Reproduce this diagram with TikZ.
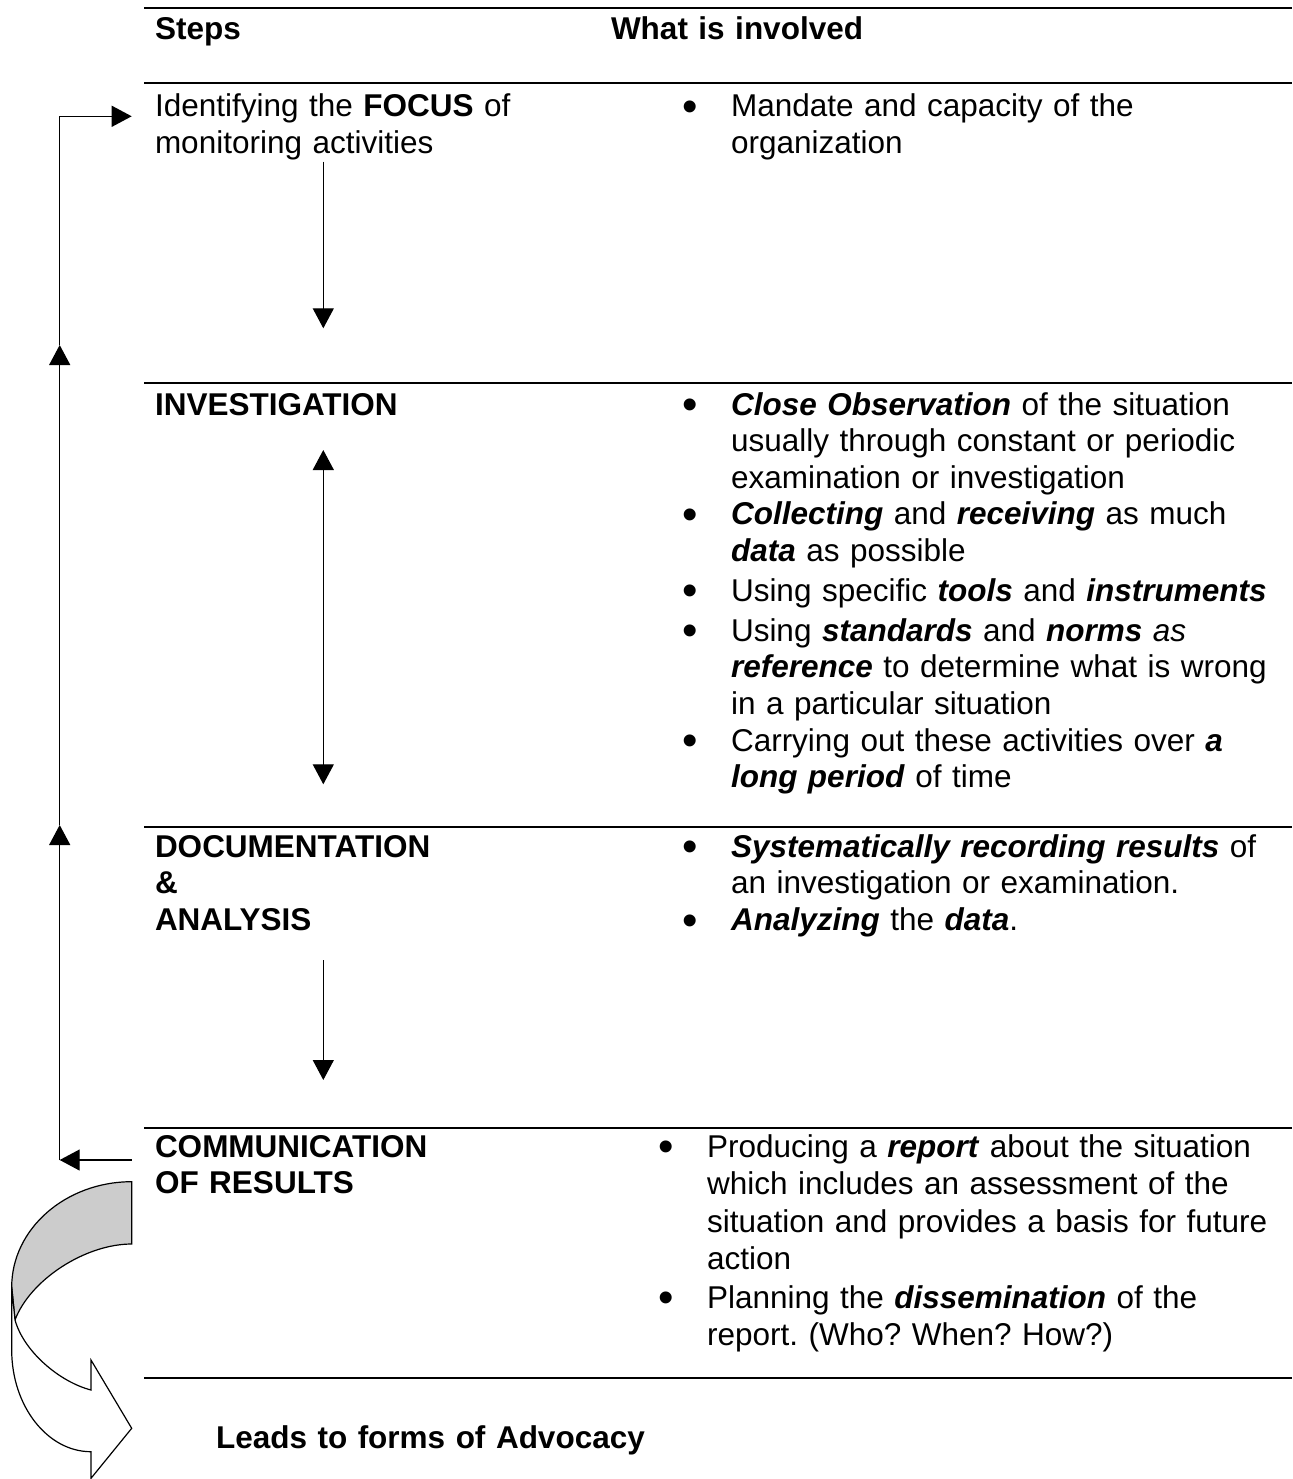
\documentclass[tikz,border=0pt]{standalone}
\usepackage{fontspec}
\setmainfont{Liberation Sans}
\usetikzlibrary{arrows.meta}
\newcommand\bodyfont{\fontsize{31.5}{36.5}\selectfont\frenchspacing}
\newcommand\bfit[1]{\textbf{\textit{#1}}}
\newcommand\bul{\noindent\llap{\raisebox{-4.7pt}{\fontsize{44}{44}\selectfont •}\hspace{33.5pt}}}
\definecolor{bandgray}{RGB}{204,204,204}
\begin{document}
\begin{tikzpicture}[x=1pt,y=-1pt,
  rule/.style={line width=1.7pt},
  conn/.style={line width=1.3pt,-{Triangle[length=20pt,width=21pt]}},
  conn2/.style={line width=1.3pt,{Triangle[length=20pt,width=21pt]}-{Triangle[length=20pt,width=21pt]}},
  lbl/.style={anchor=base west,inner sep=0pt,outer sep=0pt,font=\bodyfont,align=left,text width=#1},
  lbl/.default=560pt,
  hd/.style={lbl=#1,font=\bodyfont\bfseries},
  hd/.default=450pt,
  band/.style={line width=1.2pt}]
\useasboundingbox (0,0) rectangle (1292,1479);

% horizontal rules
\foreach \yy/\nm in {8/r0,83/r1,383/r2,827/r3,1128/r4,1378/r5}{
  \draw[rule] (144,\yy) coordinate (\nm a) -- (1292,\yy) coordinate (\nm b);
}

% headers
\node[hd] (hSteps) at (155,40) {Steps};
\node[hd=600pt] (hWhat) at (611,40) {What is involved};

% left column (steps)
\node[lbl=450pt] (sFocus) at (155,116.7) {Identifying the \textbf{FOCUS} of\\monitoring activities};
\node[hd] (sInv) at (155,415) {INVESTIGATION};
\node[hd] (sDoc) at (155,857) {DOCUMENTATION\\\&\\ANALYSIS};
\node[hd] (sCom) at (155,1157) {COMMUNICATION\\OF RESULTS};
\node[hd=700pt] (lead) at (216,1448) {Leads to forms of Advocacy};

% right column (what is involved)
\node[lbl] (wMan) at (731,116.7) {\bul Mandate and capacity of the\\organization};
\node[lbl] (wInv1) at (731,415) {\bul \bfit{Close Observation} of the situation\\usually through constant or periodic\\examination or investigation};
\node[lbl] (wInv2) at (731,524.5) {\bul \bfit{Collecting} and \bfit{receiving} as much\\\bfit{data} as possible};
\node[lbl] (wInv3) at (731,601) {\bul Using specific \bfit{tools} and \bfit{instruments}};
\node[lbl] (wInv4) at (731,641) {\bul Using \bfit{standards} and \bfit{norms} \textit{as}\\\bfit{reference} to determine what is wrong\\in a particular situation};
\node[lbl] (wInv5) at (731,751) {\bul Carrying out these activities over \bfit{a}\\\bfit{long period} of time};
\node[lbl] (wDoc1) at (731,857) {\bul \bfit{Systematically recording results} of\\an investigation or examination.};
\node[lbl] (wDoc2) at (731,930.5) {\bul \bfit{Analyzing} the \bfit{data}.};
\node[lbl=585pt,font=\fontsize{31.5}{37.5}\selectfont\frenchspacing] (wCom1) at (707,1157) {\bul Producing a \bfit{report} about the situation\\which includes an assessment of the\\situation and provides a basis for future\\action};
\node[lbl=585pt,font=\fontsize{31.5}{37.5}\selectfont\frenchspacing] (wCom2) at (707,1308) {\bul Planning the \bfit{dissemination} of the\\report. (Who? When? How?)};

% middle arrows
\coordinate (m1s) at (323.3,161.7);
\coordinate (m1e) at (323.3,328.3);
\coordinate (m2s) at (323.3,450);
\coordinate (m2e) at (323.3,784.3);
\coordinate (m3s) at (323.3,960);
\coordinate (m3e) at (323.3,1080);
\draw[conn] (m1s) -- (m1e);
\draw[conn2] (m2s) -- (m2e);
\draw[conn] (m3s) -- (m3e);

% feedback loop on the left
\coordinate (cB) at (131.7,1160);
\coordinate (cBL) at (59.7,1160);
\coordinate (cU2) at (59.7,825);
\coordinate (cU1) at (59.7,345);
\coordinate (cTL) at (59.7,116.3);
\coordinate (cTR) at (131.7,116.3);
\draw[conn] (cB) -- (cBL);
\draw[conn] (cBL) -- (cU2);
\draw[conn] (cU2) -- (cU1);
\draw[conn] (cU1) -- (cTL) -- (cTR);

% curved block arrow
\draw[band,fill=bandgray] (131.7,1181.7) .. controls (65.5,1181.7) and (11.7,1229) .. (11.7,1287)
  -- (15,1320) .. controls (30,1280) and (85,1244) .. (131.7,1244) -- cycle;
\draw[band,fill=white] (15,1320) .. controls (24,1352) and (60,1382) .. (91,1390)
  -- (91,1360) -- (131.7,1428.3) -- (91,1478.3) -- (91,1451.7)
  .. controls (47.4,1451.7) and (11.7,1406) .. (11.7,1350) -- (11.7,1287) -- cycle;
\end{tikzpicture}
\end{document}
